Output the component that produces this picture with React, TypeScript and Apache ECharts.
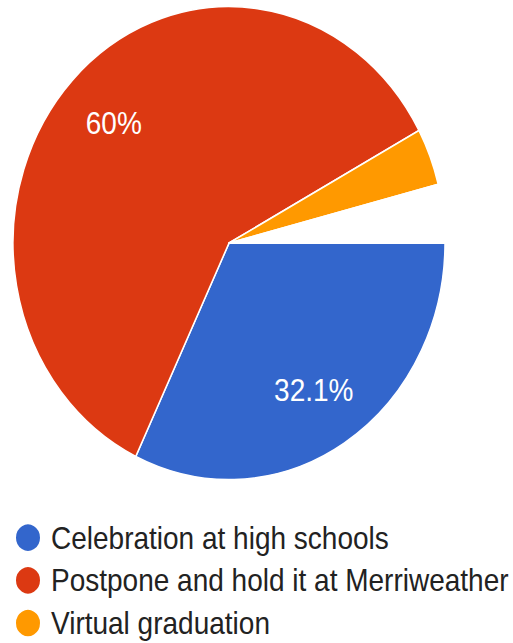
import React, { useEffect, useRef } from "react";
import * as echarts from "echarts";

const categories = [
  "Celebration at high schools",
  "Postpone and hold it at Merriweather",
  "Virtual graduation",
  "Other",
];
const values = [32.1, 60, 3.9, 4.0];
const colors = ["#3366CC", "#DC3912", "#FF9900", "#FFFFFF"];
const labeled = [true, true, false, false];
const legendNames = categories.slice(0, 3);

const STRETCH = 1.095;

export default function App() {
  const ref = useRef<HTMLDivElement>(null);
  useEffect(() => {
    document.body.style.margin = "0";
    if (!ref.current) return;
    const chart = echarts.init(ref.current, null, { renderer: "svg" });
    const font = "'Liberation Sans', Arial, sans-serif";
    chart.setOption({
      animation: false,
      legend: {
        data: legendNames,
        orient: "vertical",
        left: 14,
        top: 477,
        padding: 0,
        icon: "circle",
        itemWidth: 26,
        itemHeight: 26,
        itemGap: 11,
        textStyle: {
          fontFamily: font,
          fontSize: 28,
          color: "#222",
          lineHeight: 28,
          padding: [0, 0, 0, 5],
        },
        selectedMode: false,
      },
      series: [
        {
          type: "pie",
          center: [229, 222],
          radius: 216,
          startAngle: 0,
          clockwise: true,
          silent: true,
          label: { show: false },
          labelLine: { show: false },
          itemStyle: { borderColor: "#ffffff", borderWidth: 1.5 },
          data: categories.map((n, i) => ({
            name: n,
            value: values[i],
            itemStyle: { color: colors[i] },
          })),
        },
        {
          type: "pie",
          center: [229, 222],
          radius: [96, 216],
          startAngle: 0,
          clockwise: true,
          silent: true,
          itemStyle: { color: "rgba(0,0,0,0)", borderWidth: 0 },
          labelLine: { show: false },
          data: categories.map((n, i) => ({
            name: n,
            value: values[i],
            label: {
              show: labeled[i],
              position: "inside",
              formatter: () => values[i] + "%",
              color: "#ffffff",
              fontFamily: font,
              fontSize: 28,
            },
          })),
        },
      ],
    });
    return () => chart.dispose();
  }, []);
  return (
    <div
      style={{
        width: 513,
        height: 643,
        overflow: "hidden",
        background: "#fff",
      }}
    >
      <div
        ref={ref}
        style={{
          width: 513,
          height: Math.round(643 / STRETCH),
          transform: `scaleY(${STRETCH})`,
          transformOrigin: "0 0",
        }}
      />
    </div>
  );
}
